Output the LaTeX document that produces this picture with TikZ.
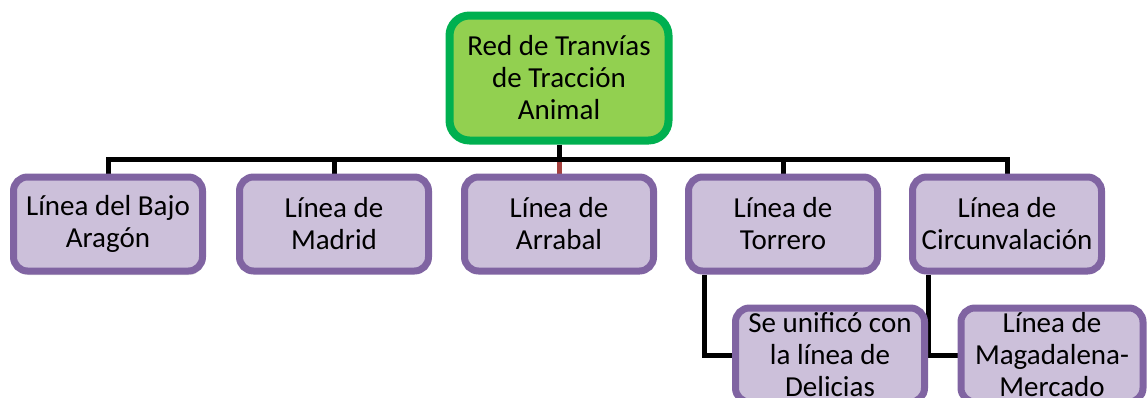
\documentclass[tikz,border=0pt]{standalone}
\usepackage{fontspec}
\setmainfont{Carlito}
\usetikzlibrary{backgrounds,shadows}
\definecolor{raizborde}{HTML}{00B050}
\definecolor{raizfondo}{HTML}{92D050}
\definecolor{lineaborde}{HTML}{8064A2}
\definecolor{lineafondo}{HTML}{CCC0DA}
\definecolor{tramo}{HTML}{A5403E}
\tikzset{
  raiz/.style={draw=raizborde, fill=raizfondo, line width=8pt, rounded corners=20pt,
    minimum width=219pt, minimum height=125pt, align=center, inner sep=0pt,
    font=\fontsize{29}{32}\selectfont},
  linea/.style={draw=lineaborde, fill=lineafondo, line width=7pt, rounded corners=14pt,
    minimum width=189pt, minimum height=94pt, align=center, inner sep=0pt,
    font=\fontsize{29}{32}\selectfont},
  conector/.style={line width=5pt, black},
}
\begin{document}
\begin{tikzpicture}[x=1pt, y=-1pt]
                \useasboundingbox (0,0) rectangle (1148,397);
                \clip (0,0) rectangle (1148,397);

                \node[raiz] (red) at (559, 78) {Red de Tranvías\\de Tracción\\Animal};
                \node[linea, drop shadow={shadow xshift=1pt, shadow yshift=-4pt, opacity=0.25}] (bajo) at (108, 224) {Línea del Bajo\\Aragón};
                \node[linea] (madrid) at (334, 224) {Línea de\\Madrid};
                \node[linea] (arrabal) at (559, 224) {Línea de\\Arrabal};
                \node[linea] (torrero) at (783, 224) {Línea de\\Torrero};
                \node[linea] (circ) at (1007, 224) {Línea de\\Circunvalación};
                \node[linea] (delicias) at (830, 355) {Se unificó con\\la línea de\\Delicias};
                \node[linea, minimum width=182pt] (magdalena) at (1052, 355) {Línea de\\Magadalena-\\Mercado};

                \coordinate (barra) at (559, 159);

                \begin{pgfonlayer}{background}
                \draw[conector] (red.south) -- (barra);
                \draw[conector] (bajo.north) |- (barra) -| (circ.north);
                \draw[conector] (madrid.north) -- (madrid.north |- barra);
                \draw[conector] (torrero.north) -- (torrero.north |- barra);
                \draw[line width=5pt, tramo] (arrabal.north) -- ([yshift=-2.5pt]barra);
                \draw[conector] ([xshift=19.5pt]torrero.south west) |- (delicias.west);
                \draw[conector] ([xshift=19.5pt]circ.south west) |- (magdalena.west);
                \end{pgfonlayer}
            \end{tikzpicture}
\end{document}
